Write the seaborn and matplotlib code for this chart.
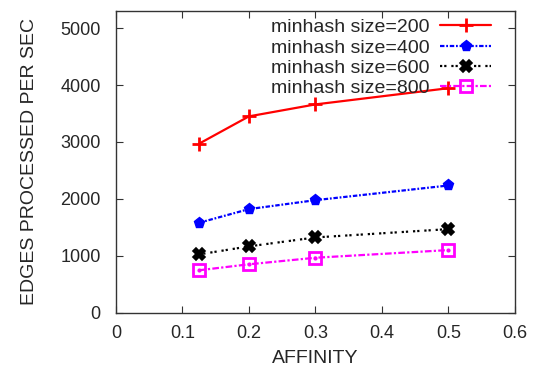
import matplotlib
matplotlib.use("Agg")
import matplotlib.pyplot as plt
import seaborn as sns
import pandas as pd

affinity = [0.125, 0.2, 0.3, 0.5]
size200 = [2970, 3450, 3660, 3945]
size400 = [1580, 1820, 1977, 2235]
size600 = [1024, 1165, 1322, 1468]
size800 = [745, 850, 965, 1100]
labels = ["minhash size=200", "minhash size=400", "minhash size=600", "minhash size=800"]

sns.set_theme(style="ticks")
plt.rcParams['font.family'] = ['Liberation Sans', 'DejaVu Sans']

fig = plt.figure(figsize=(5.42, 3.70), dpi=100)
ax = fig.add_axes([0.214, 0.155, 0.736, 0.815])

styles = [
    dict(color="#ff0000", linestyle="-", marker="+", markersize=10,
         markeredgewidth=2.0, markeredgecolor="#ff0000", markerfacecolor="#ff0000", lw=1.6),
    dict(color="#0000ff", linestyle=(0, (2, 0.8, 0.8, 0.8)), marker="p", markersize=8,
         markeredgewidth=1, markeredgecolor="#0000ff", markerfacecolor="#0000ff", lw=1.6),
    dict(color="#000000", linestyle=(0, (1, 0.9, 1, 2.2)), marker="X", markersize=9,
         markeredgewidth=1.2, markeredgecolor="#000000", markerfacecolor="#000000", lw=1.6),
    dict(color="#ff00ff", linestyle=(0, (3, 1, 1, 1)), marker="s", markersize=9,
         markeredgewidth=2, markeredgecolor="#ff00ff", markerfacecolor="none", lw=1.6),
]
series = [size200, size400, size600, size800]
for vals, lab, st in zip(series, labels, styles):
    df = pd.DataFrame({"x": affinity, "y": vals})
    sns.lineplot(data=df, x="x", y="y", ax=ax, label=lab, **st)

# centre dots of the open squares
ax.plot(affinity, size800, linestyle="none", marker="o", markersize=2,
        color="#ff00ff", label="_nolegend_")

ax.set_xlim(0, 0.6)
ax.set_ylim(0, 5300)
ax.set_xticks([0, 0.1, 0.2, 0.3, 0.4, 0.5, 0.6])
ax.set_xticklabels(["0", "0.1", "0.2", "0.3", "0.4", "0.5", "0.6"])
ax.set_yticks([0, 1000, 2000, 3000, 4000, 5000])
ax.set_xlabel("AFFINITY", fontsize=14, labelpad=6)
ax.set_ylabel("EDGES PROCESSED PER SEC", fontsize=14, labelpad=16)
ax.tick_params(axis="both", direction="in", top=True, right=True, labelsize=13, length=5,
               width=0.8, color="#333333")
ax.tick_params(axis="y", pad=11)
ax.tick_params(axis="x", pad=9)
for s in ax.spines.values():
    s.set_linewidth(1.0)
    s.set_color("#333333")
    s.set_visible(True)

leg = ax.legend(loc="upper right", bbox_to_anchor=(0.94, 0.975), markerfirst=False,
                frameon=False, fontsize=14, handlelength=2.6, labelspacing=0.14,
                borderaxespad=0, handletextpad=0.55, borderpad=0)

fig.savefig("out.png", dpi=100)
